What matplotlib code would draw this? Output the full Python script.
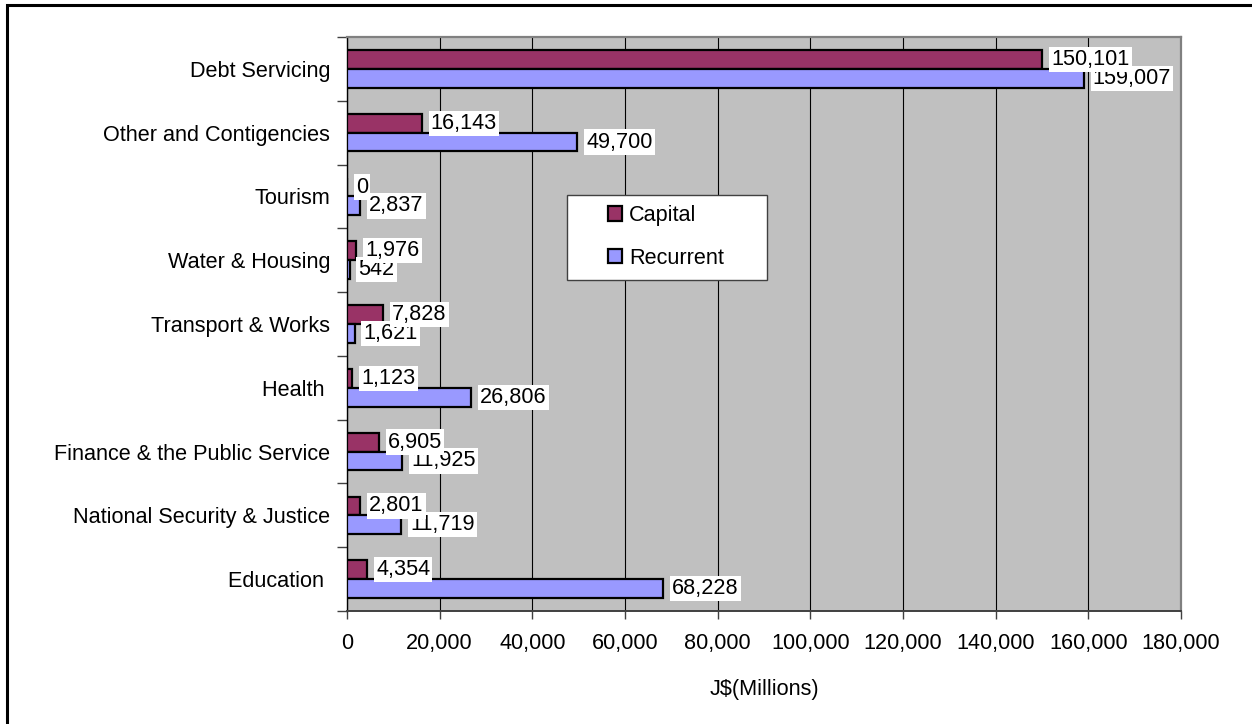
import matplotlib
matplotlib.use("Agg")
import matplotlib.pyplot as plt
from matplotlib.patches import Patch, Rectangle
import numpy as np

plt.rcParams['font.family'] = ['Liberation Sans', 'DejaVu Sans']
plt.rcParams['font.size'] = 15.6

categories = ["Education ", "National Security & Justice", "Finance & the Public Service",
              "Health ", "Transport & Works", "Water & Housing", "Tourism",
              "Other and Contigencies", "Debt Servicing"]
capital = [4354, 2801, 6905, 1123, 7828, 1976, 0, 16143, 150101]
recurrent = [68228, 11719, 11925, 26806, 1621, 542, 2837, 49700, 159007]
x_ticks = [0, 20000, 40000, 60000, 80000, 100000, 120000, 140000, 160000, 180000]

cap_color = "#993366"
rec_color = "#9999FF"

fig = plt.figure(figsize=(12.52, 7.24), dpi=100)
W, H = 1252, 724
ax = fig.add_axes([347 / W, 1 - 611 / H, (1181 - 347) / W, (611 - 37) / H])
ax.set_facecolor("#C0C0C0")

y = np.arange(len(categories))
bh = 0.295
ax.barh(y + bh / 2, capital, height=bh, color=cap_color,
        edgecolor="black", linewidth=1.6, zorder=3)
ax.barh(y - bh / 2, recurrent, height=bh, color=rec_color,
        edgecolor="black", linewidth=1.6, zorder=3)

box = dict(facecolor="white", edgecolor="none", pad=1.5)
for yi, v in zip(y - bh / 2, recurrent):
    ax.annotate(f"{v:,}", xy=(v, yi), xytext=(6.5, 0), textcoords="offset points",
                ha="left", va="center", bbox=box, zorder=5, annotation_clip=False)
for yi, v in zip(y + bh / 2, capital):
    ax.annotate(f"{v:,}", xy=(v, yi), xytext=(6.5, 0), textcoords="offset points",
                ha="left", va="center", bbox=box, zorder=6, annotation_clip=False)

ax.set_xlim(0, 180000)
ax.set_ylim(-0.5, len(categories) - 0.5)
ax.set_xticks(x_ticks)
ax.set_xticklabels([f"{t:,}" for t in x_ticks])
ax.set_yticks(y)
ax.set_yticklabels(categories)
ax.set_yticks(np.arange(-0.5, len(categories)), minor=True)
ax.tick_params(axis="y", which="major", length=0, pad=12)
ax.tick_params(axis="y", which="minor", length=7, width=1, color="#404040")
ax.tick_params(axis="x", which="major", length=6, width=1, pad=10, color="#404040")

ax.grid(axis="x", color="black", linewidth=0.8, zorder=1)
ax.set_axisbelow(True)

for side in ["top", "right"]:
    ax.spines[side].set_color("#808080")
    ax.spines[side].set_linewidth(1.6)
ax.spines["left"].set_color("black")
ax.spines["left"].set_linewidth(1.0)
ax.spines["bottom"].set_color("#404040")
ax.spines["bottom"].set_linewidth(1.4)

# legend box
ax.add_patch(Rectangle(((567 - 347) / 834, (611 - 280) / 574), 200 / 834, 85 / 574,
                       transform=ax.transAxes, facecolor="white", edgecolor="#404040",
                       linewidth=1.0, zorder=7))
handles = [Patch(facecolor=cap_color, edgecolor="black", linewidth=1.6, label="Capital"),
           Patch(facecolor=rec_color, edgecolor="black", linewidth=1.6, label="Recurrent")]
leg = ax.legend(handles=handles, loc="center left",
                bbox_to_anchor=((608 - 347) / 834, (611 - 237) / 574),
                frameon=False, borderpad=0, borderaxespad=0,
                handlelength=0.63, handleheight=0.63, handletextpad=0.33,
                labelspacing=1.0)
leg.set_zorder(8)

fig.text((347 + 1181) / 2 / W, 1 - 690 / H, "J$(Millions)", ha="center", va="center")

# outer chart frame
fig.patches.append(Rectangle((7 / W, -0.2), 1.5, 1.2 - 5 / H, transform=fig.transFigure,
                             facecolor="none", edgecolor="black", linewidth=2.2))

fig.savefig("out.png", dpi=100)
